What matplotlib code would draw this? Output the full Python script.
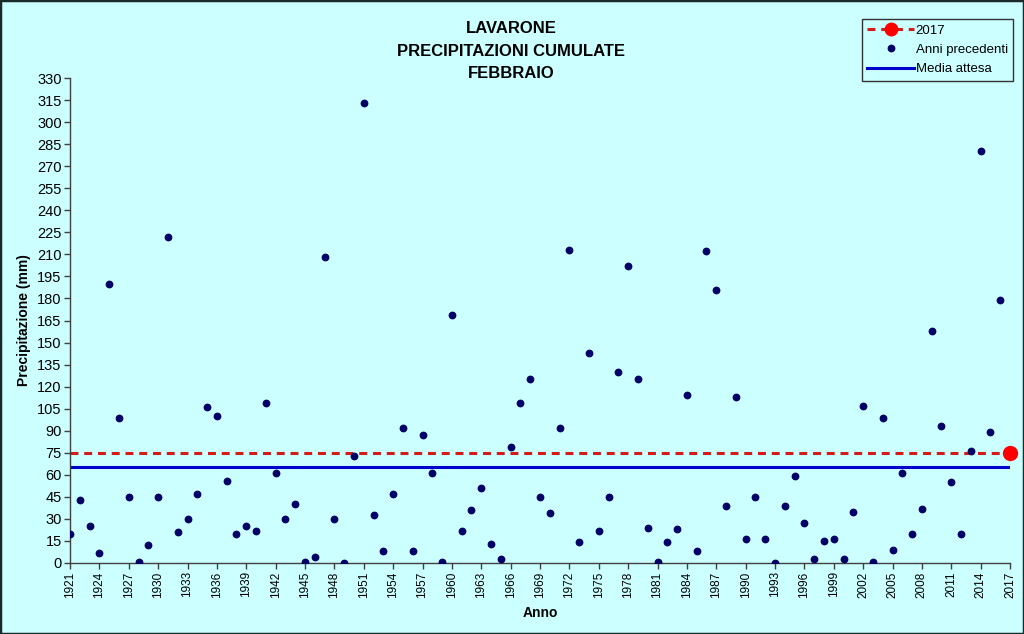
import matplotlib
matplotlib.use("Agg")
import matplotlib.pyplot as plt
from matplotlib.patches import Rectangle
from matplotlib.lines import Line2D

plt.rcParams['font.family'] = ['Liberation Sans', 'DejaVu Sans']

# ---- data ----
years = list(range(1921, 2017))
precip = [20, 43, 25, 7, 190, 99, 45, 1, 12, 45,
          222, 21, 30, 47, 106, 100, 56, 20, 25, 22,
          109, 61, 30, 40, 1, 4, 208, 30, 0, 73,
          313, 33, 8, 47, 92, 8, 87, 61, 1, 169,
          22, 36, 51, 13, 3, 79, 109, 125, 45, 34,
          92, 213, 14, 143, 22, 45, 130, 202, 125, 24,
          1, 14, 23, 114, 8, 212, 186, 39, 113, 16,
          45, 16, 0, 39, 59, 27, 3, 15, 16, 3,
          35, 107, 1, 99, 9, 61, 20, 37, 158, 93,
          55, 20, 76, 280, 89, 179]
year_current = 2017
value_current = 75
media_attesa = 65.5

title_lines = ["LAVARONE", "PRECIPITAZIONI CUMULATE", "FEBBRAIO"]
xticks = list(range(1921, 2018, 3))
yticks = list(range(0, 331, 15))

bg = '#CCFFFF'
red_line = '#D41A1A'

fig = plt.figure(figsize=(10.24, 6.34), dpi=100, facecolor=bg)
ax = fig.add_axes([70/1024, 1 - 563/634, (1010 - 70)/1024, (563 - 78)/634])
ax.set_facecolor(bg)

all_years = years + [year_current]
ax.plot([all_years[0], all_years[-1]], [value_current, value_current],
        color=red_line, lw=2.2, dashes=(2.6, 1.9), zorder=2)
ax.plot([all_years[0], all_years[-1]], [media_attesa, media_attesa],
        color='#0000CC', lw=2.2, zorder=2)
ax.plot(years, precip, linestyle='none', marker='o', ms=4.6,
        color='#000066', zorder=3)
ax.plot([year_current], [value_current], linestyle='none', marker='o',
        ms=10, color='#FF0000', zorder=4, clip_on=False)

ax.set_xlim(1921, 2017)
ax.set_ylim(0, 330)
ax.set_xticks(xticks)
ax.set_xticklabels([str(x) for x in xticks], rotation=90, fontsize=8.5)
ax.set_yticks(yticks)
ax.set_yticklabels([str(y) for y in yticks], fontsize=10.5)
ax.tick_params(axis='both', direction='out', length=4, width=1,
               color='#404040', pad=2)

for s in ['top', 'right']:
    ax.spines[s].set_visible(False)
for s in ['left', 'bottom']:
    ax.spines[s].set_color('#404040')
    ax.spines[s].set_linewidth(1)

ax.set_ylabel("Precipitazione (mm)", fontsize=10, fontweight='bold', labelpad=4)
ax.set_xlabel("Anno", fontsize=10, fontweight='bold', labelpad=6)

for i, t in enumerate(title_lines):
    fig.text(511/1024, 1 - (28.5 + 22.5*i)/634, t, ha='center', va='center',
             fontsize=12, fontweight='bold')

handles = [
    Line2D([], [], color=red_line, lw=2.2, dashes=(2.6, 1.9), marker='o',
           markersize=9, markerfacecolor='#FF0000', markeredgecolor='#FF0000'),
    Line2D([], [], color='#000066', linestyle='none', marker='o', markersize=4.6),
    Line2D([], [], color='#0000CC', lw=2.2),
]
labels = ["2017", "Anni precedenti", "Media attesa"]
leg = fig.legend(handles, labels, loc='upper right',
                 bbox_to_anchor=(1013/1024, 1 - 19/634), fontsize=9.5,
                 frameon=True, fancybox=False, framealpha=1, facecolor=bg,
                 edgecolor='#333333', handlelength=3.6, handletextpad=0.1,
                 labelspacing=0.55, borderpad=0.4, borderaxespad=0)
leg.get_frame().set_linewidth(1)

fig.patches.append(Rectangle((0, 0), 1, 1, transform=fig.transFigure,
                             fill=False, edgecolor='#1A2A2A', lw=2.5))

fig.savefig("out.png", dpi=100, facecolor=bg)
